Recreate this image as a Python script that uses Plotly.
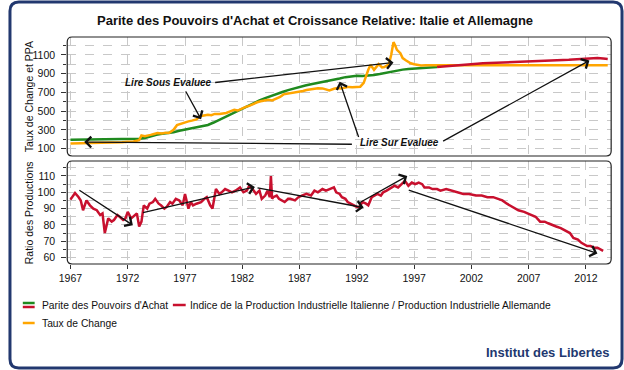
import plotly.graph_objects as go

# ---------------- DATA ----------------
ppa_years = [1967.0, 1968.0, 1969.0, 1970.0, 1971.0, 1972.0, 1973.0, 1973.5, 1974.0, 1974.5,
             1975.0, 1975.5, 1976.0, 1976.5, 1977.0, 1977.5, 1978.0, 1978.5, 1979.0, 1979.5,
             1980.0, 1980.5, 1981.0, 1981.5, 1982.0, 1982.5, 1983.0, 1983.5, 1984.0, 1984.5,
             1985.0, 1985.5, 1986.0, 1986.5, 1987.0, 1987.5, 1988.0, 1988.5, 1989.0, 1989.5,
             1990.0, 1990.5, 1991.0, 1991.5, 1992.0, 1992.5, 1993.0, 1993.5, 1994.0, 1994.5,
             1995.0, 1995.5, 1996.0, 1996.5, 1997.0, 1997.5, 1998.0, 1998.5, 1999.0]
ppa_values = [195, 196, 196, 197, 198, 199, 204, 212, 232, 248,
              258, 263, 275, 290, 303, 316, 328, 338, 352, 378,
              408, 438, 468, 498, 525, 555, 585, 613, 638, 662,
              684, 704, 724, 742, 758, 773, 787, 798, 810, 822,
              832, 848, 862, 872, 877, 873, 876, 885, 895, 908,
              920, 932, 942, 948, 953, 957, 962, 966, 970]

ppa_euro_years = [1999.0, 1999.5, 2000.0, 2000.5, 2001.0, 2001.5, 2002.0, 2002.5, 2003.0, 2003.5,
                  2004.0, 2004.5, 2005.0, 2005.5, 2006.0, 2006.5, 2007.0, 2007.5, 2008.0, 2008.5,
                  2009.0, 2009.5, 2010.0, 2010.5, 2011.0, 2011.5, 2012.0, 2012.5, 2013.0, 2013.5, 2013.9]
ppa_euro_values = [970, 976, 982, 988, 993, 997, 1001, 1004, 1009, 1012,
                   1015, 1018, 1022, 1025, 1028, 1031, 1034, 1037, 1041, 1043,
                   1042, 1044, 1046, 1047, 1051, 1055, 1061, 1065, 1066, 1060, 1055]

fx_years = [1967.0, 1967.5, 1968.0, 1968.5, 1969.0, 1969.5, 1970.0, 1970.5, 1971.0, 1971.5,
            1972.0, 1972.5, 1973.0, 1973.2, 1973.5, 1973.8, 1974.0, 1974.3, 1974.6, 1975.0,
            1975.3, 1975.6, 1976.0, 1976.3, 1976.6, 1977.0, 1977.3, 1977.6, 1978.0, 1978.3,
            1978.6, 1979.0, 1979.3, 1979.6, 1980.0, 1980.3, 1980.6, 1981.0, 1981.3, 1981.6,
            1982.0, 1982.3, 1982.6, 1983.0, 1983.3, 1983.6, 1984.0, 1984.3, 1984.6, 1985.0,
            1985.3, 1985.6, 1986.0, 1986.3, 1986.6, 1987.0, 1987.3, 1987.6, 1988.0, 1988.3,
            1988.6, 1989.0, 1989.3, 1989.6, 1990.0, 1990.3, 1990.6, 1991.0, 1991.3, 1991.6,
            1992.0, 1992.3, 1992.6, 1992.8, 1993.0, 1993.2, 1993.5, 1993.9, 1994.2, 1994.4,
            1994.8, 1995.0, 1995.2, 1995.35, 1995.5, 1995.8, 1996.0, 1996.3, 1996.7, 1997.0,
            1997.3, 1997.6, 1998.0, 1998.5, 1999.0, 2013.9]
fx_values = [155, 156, 156, 157, 157, 160, 162, 161, 163, 168,
             172, 175, 190, 240, 232, 236, 246, 256, 266, 262,
             270, 266, 300, 350, 362, 385, 390, 398, 412, 445,
             455, 462, 456, 470, 470, 476, 480, 500, 514, 506,
             530, 545, 556, 580, 594, 604, 614, 620, 614, 630,
             650, 678, 685, 690, 695, 705, 715, 725, 734, 740,
             744, 742, 734, 720, 738, 745, 740, 750, 758, 754,
             755, 760, 800, 880, 940, 993, 940, 1000, 966, 970,
             1000, 1100, 1235, 1200, 1153, 1117, 1065, 1040, 1010, 1000,
             993, 987, 990, 990, 990, 990]

ratio_years = [1967.0, 1967.2, 1967.4, 1967.7, 1967.9, 1968.1, 1968.4, 1968.7, 1969.0, 1969.3,
               1969.6, 1969.8, 1970.0, 1970.3, 1970.6, 1970.8, 1971.1, 1971.3, 1971.6, 1971.8,
               1972.0, 1972.3, 1972.5, 1972.8, 1973.0, 1973.2, 1973.4, 1973.7, 1973.9, 1974.2,
               1974.4, 1974.7, 1974.9, 1975.2, 1975.4, 1975.7, 1975.9, 1976.2, 1976.5, 1976.8,
               1977.0, 1977.3, 1977.5, 1977.7, 1978.0, 1978.4, 1978.7, 1978.9, 1979.2, 1979.4,
               1979.7, 1980.0, 1980.2, 1980.5, 1980.8, 1981.1, 1981.4, 1981.8, 1982.1, 1982.4,
               1982.6, 1982.9, 1983.2, 1983.5, 1983.7, 1984.0, 1984.2, 1984.4, 1984.5, 1984.6,
               1984.7, 1985.0, 1985.2, 1985.5, 1985.7, 1986.0, 1986.2, 1986.6, 1986.9, 1987.2,
               1987.6, 1988.0, 1988.3, 1988.6, 1989.0, 1989.3, 1989.7, 1990.0, 1990.2, 1990.5,
               1990.7, 1991.0, 1991.2, 1991.5, 1991.7, 1992.0, 1992.2, 1992.5, 1992.8, 1993.0,
               1993.3, 1993.6, 1993.8, 1994.1, 1994.3, 1994.6, 1994.8, 1995.1, 1995.3, 1995.6,
               1995.9, 1996.2, 1996.5, 1996.8, 1997.1, 1997.4, 1997.7, 1997.9, 1998.3, 1998.6,
               1999.0, 1999.3, 1999.8, 2000.3, 2000.8, 2001.3, 2001.8, 2002.4, 2002.9, 2003.4,
               2003.9, 2004.3, 2004.7, 2005.1, 2005.6, 2006.1, 2006.6, 2007.2, 2007.6, 2008.0,
               2008.4, 2008.7, 2009.0, 2009.4, 2009.8, 2010.3, 2010.6, 2010.9, 2011.3, 2011.6,
               2011.9, 2012.1, 2012.4, 2012.7, 2013.0, 2013.3, 2013.5]
ratio_values = [95.5, 98, 99.6, 97.1, 95, 89, 95, 92, 90, 89,
                86, 87, 75, 84, 82, 83, 86, 85, 83, 84,
                88, 84, 85, 87, 79, 82, 92, 90, 93, 94,
                96, 93, 92, 90, 91, 94, 93, 96, 95, 92,
                99, 90, 94, 92, 93, 94, 96, 97, 92, 90,
                102, 99, 100, 102, 101, 100, 101, 103, 100, 101,
                104, 102, 99, 101, 96, 98, 101, 97, 110, 96,
                97, 98, 96, 95, 94, 96, 96, 95, 97, 98,
                99, 98, 101, 100, 102, 101, 102, 103, 100, 99,
                97, 96, 94, 93, 92, 91, 91, 94, 93, 92,
                97, 98, 99, 98, 100, 101, 102, 103, 104, 103,
                105, 107, 104, 106, 105, 106, 105, 103, 103, 102,
                102, 101, 102, 101, 100, 99, 99, 98, 98, 97,
                97, 96, 95, 93, 91, 89, 88, 86, 85, 82,
                82, 81, 80, 79, 78, 76, 75, 72, 71, 69,
                68, 67, 67, 66, 66, 65, 64]

tick_years = [1967, 1972, 1977, 1982, 1987, 1992, 1997, 2002, 2007, 2012]

TITLE = "Parite des Pouvoirs d'Achat et Croissance Relative: Italie et Allemagne"
LEG_PPA = "Parite des Pouvoirs d'Achat"
LEG_RATIO = "Indice de la Production Industrielle Italienne / Production Industrielle Allemande"
LEG_FX = "Taux de Change"
YT_TOP = "Taux de Change et PPA"
YT_BOT = "Ratio des Productions"

# ---------------- STYLE ----------------
W, H = 624, 370
FONT = "Liberation Sans, Arial, sans-serif"
GREEN = "#1F8A1F"
RED = "#C8102E"
ORANGE = "#FFA500"
NAVY = "#22386F"
GRID = "#C8C8C8"
TXT = "#111"


def px(x):
    return x / W


def py(y):
    return 1 - y / H


def rrect(x0, y0, x1, y1, r):
    return (f"M {px(x0 + r)},{py(y0)} L {px(x1 - r)},{py(y0)} Q {px(x1)},{py(y0)} {px(x1)},{py(y0 + r)} "
            f"L {px(x1)},{py(y1 - r)} Q {px(x1)},{py(y1)} {px(x1 - r)},{py(y1)} "
            f"L {px(x0 + r)},{py(y1)} Q {px(x0)},{py(y1)} {px(x0)},{py(y1 - r)} "
            f"L {px(x0)},{py(y0 + r)} Q {px(x0)},{py(y0)} {px(x0 + r)},{py(y0)} Z")


# panel pixel boxes
PL, PR = 60, 611
T_TOP, T_BOT = 37, 156
B_TOP, B_BOT = 161, 264

fig = go.Figure()
fig.add_trace(go.Scatter(x=ppa_years, y=ppa_values, mode="lines", line=dict(color=GREEN, width=2.5),
                         name=LEG_PPA, xaxis="x", yaxis="y"))
fig.add_trace(go.Scatter(x=fx_years, y=fx_values, mode="lines", line=dict(color=ORANGE, width=2.5),
                         name=LEG_FX, xaxis="x", yaxis="y"))
fig.add_trace(go.Scatter(x=ppa_euro_years, y=ppa_euro_values, mode="lines", line=dict(color=RED, width=2.5),
                         name=LEG_PPA, xaxis="x", yaxis="y"))
fig.add_trace(go.Scatter(x=ratio_years, y=ratio_values, mode="lines", line=dict(color=RED, width=2.5),
                         name=LEG_RATIO, xaxis="x2", yaxis="y2"))

TF = dict(family=FONT, size=10.5, color=TXT)
xcommon = dict(range=[1966.72, 2014.2], tickvals=tick_years, showgrid=True, gridcolor=GRID,
               griddash="dash", gridwidth=1, zeroline=False, showline=False,
               domain=[px(PL), px(PR)])
fig.update_layout(
    xaxis=dict(**xcommon, showticklabels=False, ticks="", anchor="y"),
    xaxis2=dict(**xcommon, ticktext=[str(t) for t in tick_years], ticks="outside", ticklen=4,
                tickcolor="#333", anchor="y2", tickfont=TF),
    yaxis=dict(range=[21, 1290], domain=[py(T_BOT), py(T_TOP)], tick0=100, dtick=200,
               showgrid=True, gridcolor=GRID, griddash="dash", zeroline=False, showline=False,
               ticks="outside", ticklen=5, tickcolor="#333", anchor="x", ticklabelstandoff=4,
               minor=dict(dtick=100, tick0=100, showgrid=True, gridcolor=GRID, griddash="dash",
                          ticks="outside", ticklen=3, tickcolor="#333"),
               tickfont=TF),
    yaxis2=dict(range=[56, 119.2], domain=[py(B_BOT), py(B_TOP)], tick0=60, dtick=10,
                showgrid=True, gridcolor=GRID, griddash="dash", zeroline=False, showline=False,
                ticks="outside", ticklen=5, tickcolor="#333", anchor="x2", ticklabelstandoff=4,
                minor=dict(dtick=5, tick0=60, showgrid=True, gridcolor=GRID, griddash="dash",
                           ticks="outside", ticklen=3, tickcolor="#333"),
                tickfont=TF),
    width=W, height=H, margin=dict(l=0, r=0, t=0, b=0),
    paper_bgcolor="white", plot_bgcolor="white", showlegend=False,
)

shapes = []
shapes.append(dict(type="path", xref="paper", yref="paper", path=rrect(2, 2, 622, 368, 9),
                   line=dict(color=NAVY, width=3), fillcolor="rgba(0,0,0,0)"))
shapes.append(dict(type="path", xref="paper", yref="paper", path=rrect(PL, T_TOP, PR, T_BOT, 5),
                   line=dict(color="#222", width=1.2), fillcolor="rgba(0,0,0,0)", layer="above"))
shapes.append(dict(type="path", xref="paper", yref="paper", path=rrect(PL, B_TOP, PR, B_BOT, 5),
                   line=dict(color="#222", width=1.2), fillcolor="rgba(0,0,0,0)", layer="above"))
# legend swatches
shapes.append(dict(type="line", xref="paper", yref="paper", x0=px(15), x1=px(27), y0=py(303), y1=py(303),
                   line=dict(color=GREEN, width=2.5)))
shapes.append(dict(type="line", xref="paper", yref="paper", x0=px(15), x1=px(27), y0=py(307), y1=py(307),
                   line=dict(color=RED, width=2.5)))
shapes.append(dict(type="line", xref="paper", yref="paper", x0=px(167), x1=px(180), y0=py(305), y1=py(305),
                   line=dict(color=RED, width=2.5)))
shapes.append(dict(type="line", xref="paper", yref="paper", x0=px(15), x1=px(27), y0=py(323), y1=py(323),
                   line=dict(color=ORANGE, width=2.5)))
fig.update_layout(shapes=shapes)

ann = []
ann.append(dict(text=f"<b>{TITLE}</b>", xref="paper", yref="paper", x=px(311), y=py(20),
                showarrow=False, font=dict(family=FONT, size=13, color=TXT), xanchor="center", yanchor="middle"))
ann.append(dict(text=YT_TOP, xref="paper", yref="paper", x=px(21), y=py((T_TOP + T_BOT) / 2), textangle=-90,
                showarrow=False, xanchor="center", yanchor="middle", font=dict(family=FONT, size=10.5, color=TXT)))
ann.append(dict(text=YT_BOT, xref="paper", yref="paper", x=px(21), y=py((B_TOP + B_BOT) / 2), textangle=-90,
                showarrow=False, xanchor="center", yanchor="middle", font=dict(family=FONT, size=10.5, color=TXT)))
ann.append(dict(text=LEG_PPA, xref="paper", yref="paper", x=px(32), y=py(305), showarrow=False,
                xanchor="left", yanchor="middle", font=dict(family=FONT, size=10.3, color=TXT)))
ann.append(dict(text=LEG_RATIO, xref="paper", yref="paper", x=px(182), y=py(305), showarrow=False,
                xanchor="left", yanchor="middle", font=dict(family=FONT, size=10.3, color=TXT)))
ann.append(dict(text=LEG_FX, xref="paper", yref="paper", x=px(32), y=py(323), showarrow=False,
                xanchor="left", yanchor="middle", font=dict(family=FONT, size=10.3, color=TXT)))
ann.append(dict(text="<b>Institut des Libertes</b>", xref="paper", yref="paper", x=px(612), y=py(352),
                showarrow=False, xanchor="right", yanchor="middle", font=dict(family=FONT, size=13, color=NAVY)))

ann.append(dict(text="<b><i>Lire Sous Evaluee</i></b>", xref="x", yref="y", x=1975.6, y=803,
                showarrow=False, font=dict(family=FONT, size=10, color=TXT)))
ann.append(dict(text="<b><i>Lire Sur Evaluee</i></b>", xref="x", yref="y", x=1995.7, y=160,
                showarrow=False, font=dict(family=FONT, size=10, color=TXT)))

top_arrows = [((1979.5, 803), (1995.2, 1017)),
              ((1977.0, 725), (1978.4, 413)),
              ((1991.7, 146), (1968.2, 170)),
              ((1992.2, 207), (1990.5, 814)),
              ((1999.4, 171), (2012.3, 1039))]
bot_arrows = [((1967.65, 101.9), (1972.45, 79.8)),
              ((1973.2, 87.3), (1983.1, 103.3)),
              ((1983.2, 102.9), (1992.6, 90.6)),
              ((1992.1, 93.1), (1996.4, 110.0)),
              ((1996.4, 101.7), (2013.0, 62.5))]
for (tx, ty), (hx, hy) in top_arrows:
    ann.append(dict(text="", x=hx, y=hy, ax=tx, ay=ty, xref="x", yref="y", axref="x", ayref="y",
                    showarrow=True, arrowhead=4, arrowsize=1.6, arrowwidth=1.3, arrowcolor=TXT))
for (tx, ty), (hx, hy) in bot_arrows:
    ann.append(dict(text="", x=hx, y=hy, ax=tx, ay=ty, xref="x2", yref="y2", axref="x2", ayref="y2",
                    showarrow=True, arrowhead=4, arrowsize=1.6, arrowwidth=1.3, arrowcolor=TXT))
fig.update_layout(annotations=ann)

fig.write_html("out.html", config={"displayModeBar": False},
               post_script="document.body.style.margin='0';document.body.style.overflow='hidden';")
